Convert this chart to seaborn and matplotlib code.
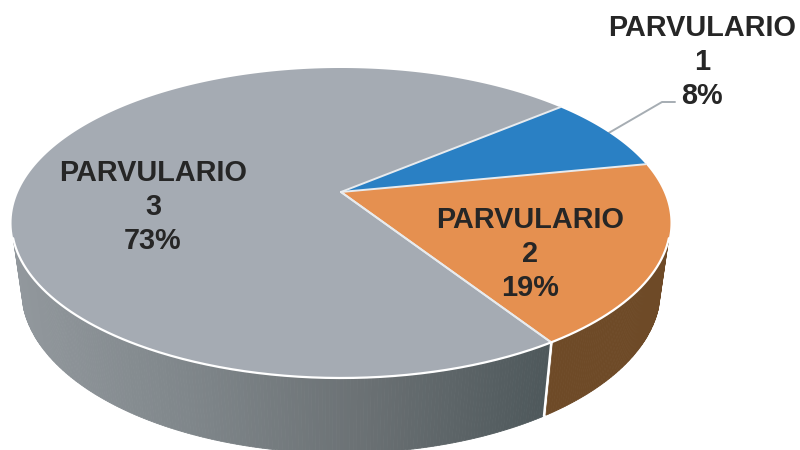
import numpy as np
import seaborn as sns
from matplotlib import pyplot as plt

categorias = ['PARVULARIO\n1', 'PARVULARIO\n2', 'PARVULARIO\n3']
valores = [8, 19, 73]
colores = ['#2a80c4', '#e59050', '#a5abb3']
# centro de cada etiqueta (px)
pos_etiquetas = [(702, 61), (530, 253), (153, 206)]

sns.set_theme(style='white')
plt.rcParams['font.family'] = ['Liberation Sans', 'DejaVu Sans']

# perspectiva del pastel 3d
CX, CY = 341, 192
A, B, K = 322.8, 148.8, 0.2
D, M = 68, 0.03
INICIO = 40.0
VISIBLE = (-163, -17)  # tramo del borde con pared visible


def proyectar(grados, z=0.0):
    t = np.radians(grados)
    x, y = np.cos(t), -np.sin(t)
    w = 1 - K * y + M * z
    return CX + A * x / w, CY + (B * y + D * z) / w


fig, ax = plt.subplots(figsize=(8, 4.5), dpi=100)
ax.set_position([0, 0, 1, 1])
ax.set_xlim(0, 800)
ax.set_ylim(450, 0)
ax.axis('off')

# angulos de cada porcion a partir de los datos
fin = INICIO - np.cumsum(valores) * 3.6
ini = np.r_[INICIO, fin[:-1]]

# pared lateral: gris con degradado, naranja oscuro liso
degradado = sns.blend_palette(['#92989d', '#7f868a', '#6a7073', '#4e585b'], 256)
for i in [2, 1]:
    ts = np.arange(ini[i], fin[i], -0.5)
    ts = ts[(ts > VISIBLE[0]) & (ts < VISIBLE[1])]
    for t0, t1 in zip(ts[:-1], ts[1:]):
        x0, y0 = proyectar(t0)
        x1, y1 = proyectar(t1)
        x2, y2 = proyectar(t1, 1)
        x3, y3 = proyectar(t0, 1)
        if i == 1:
            c = '#6e4a27'
        else:
            c = degradado[int(np.clip((x0 - 10) / 540 * 255, 0, 255))]
        ax.fill([x0, x1, x2, x3], [y0, y1, y2, y3], color=c, lw=0.6, zorder=2)

# separador blanco en la pared
xs, ys = zip(proyectar(fin[1]), proyectar(fin[1], 1))
ax.plot(xs, ys, color='white', lw=1.6, zorder=3)

# cara superior
for i in range(len(valores)):
    ts = np.linspace(ini[i], fin[i], 200)
    x, y = proyectar(ts)
    ax.fill(np.r_[CX, x], np.r_[CY, y], color=colores[i], lw=0, zorder=4)
    x0, y0 = proyectar(ini[i])
    ax.plot([CX, x0], [CY, y0], color='#e8ebee', lw=1.4, zorder=5)
x, y = proyectar(fin[1])
ax.plot([CX, x], [CY, y], color='#e8ebee', lw=1.4, zorder=5)

# borde blanco frontal
ts = np.linspace(VISIBLE[1], VISIBLE[0], 300)
x, y = proyectar(ts)
ax.plot(x, y, color='white', lw=1.6, zorder=6)

# linea guia de la porcion 1
xg, yg = proyectar((ini[0] + fin[0]) / 2)
ax.plot([xg, 662, 675], [yg, 102, 102], color='#a6adb3', lw=1.4, zorder=1)

for cat, val, (xt, yt) in zip(categorias, valores, pos_etiquetas):
    ax.text(xt, yt + 1, f'{cat}\n{val}%', ha='center', va='center', fontsize=20.8,
            fontweight='bold', color='#262626', linespacing=1.27, zorder=7)

plt.savefig('out.png', dpi=100)
